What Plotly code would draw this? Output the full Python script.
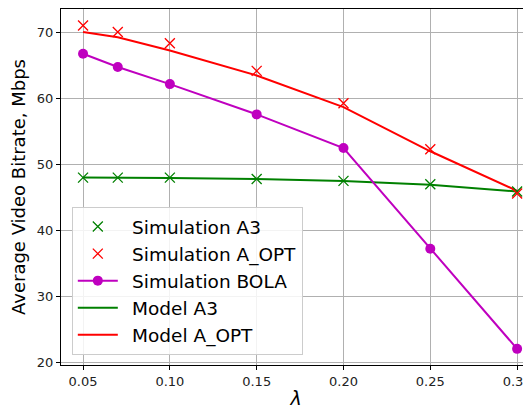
import plotly.graph_objects as go

lam = [0.05, 0.07, 0.10, 0.15, 0.20, 0.25, 0.30]
sim_a3 = [48.0, 48.0, 48.0, 47.8, 47.5, 47.0, 45.9]
sim_aopt = [71.1, 70.1, 68.4, 64.2, 59.3, 52.3, 45.6]
sim_bola = [66.8, 64.8, 62.2, 57.6, 52.5, 37.2, 22.0]
model_a3 = [48.0, 48.0, 47.95, 47.8, 47.5, 46.9, 45.9]
model_aopt = [70.1, 69.3, 67.3, 63.5, 58.7, 52.0, 46.0]
names = ["Simulation A3", "Simulation A_OPT", "Simulation BOLA", "Model A3", "Model A_OPT"]

GREEN = "#008000"
RED = "#ff0000"
MAG = "#bf00bf"
SP = "\u2002"

fig = go.Figure()
fig.add_trace(go.Scatter(x=lam, y=model_a3, mode="lines", name=SP + names[3],
                         line=dict(color=GREEN, width=2), legendrank=4))
fig.add_trace(go.Scatter(x=lam, y=model_aopt, mode="lines", name=SP + names[4],
                         line=dict(color=RED, width=2), legendrank=5))
fig.add_trace(go.Scatter(x=lam, y=sim_bola, mode="lines+markers", name=SP + names[2],
                         line=dict(color=MAG, width=2),
                         marker=dict(symbol="circle", size=10, color=MAG),
                         legendrank=3))
fig.add_trace(go.Scatter(x=lam, y=sim_a3, mode="markers", name=SP + names[0],
                         marker=dict(symbol="x-thin", size=10, line=dict(color=GREEN, width=1.3)),
                         legendrank=1))
fig.add_trace(go.Scatter(x=lam, y=sim_aopt, mode="markers", name=SP + names[1],
                         marker=dict(symbol="x-thin", size=10, line=dict(color=RED, width=1.3)),
                         legendrank=2))

axis_common = dict(showgrid=True, gridcolor="#b0b0b0", gridwidth=1,
                   showline=True, linecolor="black", linewidth=1.2, mirror=True,
                   ticks="outside", ticklen=4, tickcolor="black", automargin=False,
                   ticklabeloverflow="allow",
                   tickfont=dict(size=13, color="#222"), zeroline=False)

# page body has an 8px margin, so the figure is offset by 8px
fig.update_layout(
    width=523, height=401,
    margin=dict(l=53, r=0, t=1, b=44),
    paper_bgcolor="white", plot_bgcolor="white",
    font=dict(family="DejaVu Sans", color="black"),
    xaxis=dict(range=[0.0373, 0.308], tickvals=[0.05, 0.10, 0.15, 0.20, 0.25, 0.30],
               ticktext=["0.05", "0.10", "0.15", "0.20", "0.25", "0.30"],
               title=dict(text="<i>λ</i>", font=dict(size=19), standoff=6), **axis_common),
    yaxis=dict(range=[19.55, 73.6], tickvals=[20, 30, 40, 50, 60, 70],
               title=dict(text="Average Video Bitrate, Mbps", font=dict(size=18), standoff=8),
               **axis_common),
    legend=dict(x=0.023, y=0.028, xanchor="left", yanchor="bottom",
                bgcolor="rgba(255,255,255,0.85)", bordercolor="#cccccc", borderwidth=1,
                font=dict(size=18.5), traceorder="normal",
                itemwidth=40),
    showlegend=True,
)

fig.write_html("out.html")
